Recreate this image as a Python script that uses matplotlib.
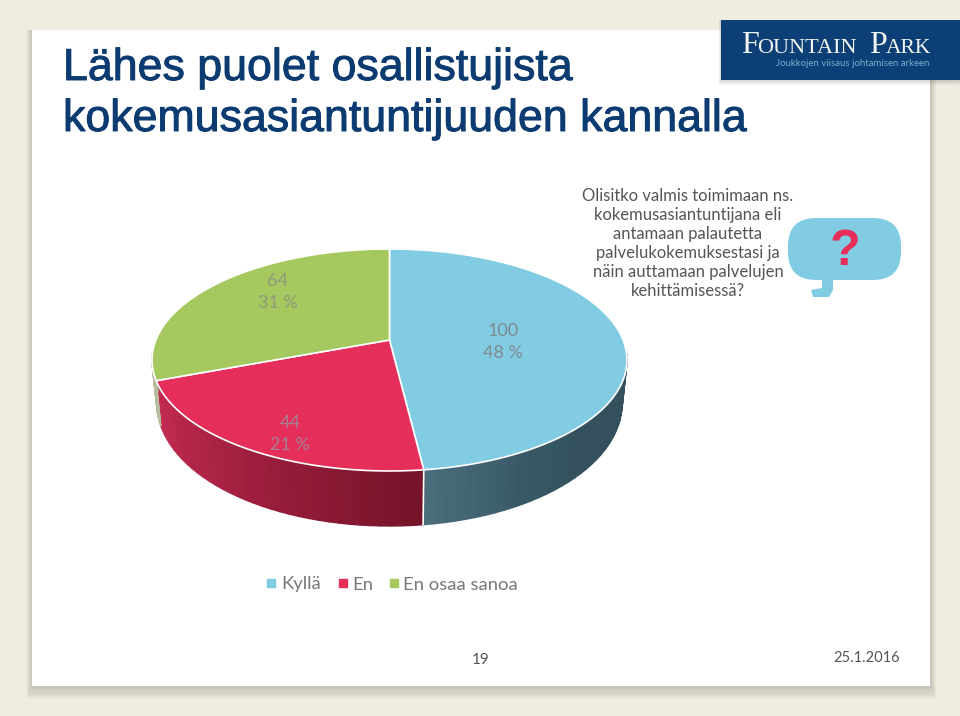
import numpy as np
import matplotlib
matplotlib.use('Agg')
import matplotlib.pyplot as plt
import matplotlib.patheffects as pe
from matplotlib.patches import Rectangle, FancyBboxPatch, Polygon
from matplotlib.colors import LinearSegmentedColormap

categories = ['Kyllä', 'En', 'En osaa sanoa']
values = [100, 44, 64]
colors = ['#82CCE3', '#E52F5A', '#A5C85F']
question = ['Olisitko valmis toimimaan ns.', 'kokemusasiantuntijana eli', 'antamaan palautetta',
            'palvelukokemuksestasi ja', 'näin auttamaan palvelujen', 'kehittämisessä?']

W, H = 960, 716
fig = plt.figure(figsize=(W / 100, H / 100), dpi=100)
ax = fig.add_axes([0, 0, 1, 1])
ax.set_xlim(0, W)
ax.set_ylim(H, 0)
ax.axis('off')

# tausta ja dia
ax.add_patch(Rectangle((0, 0), W, H, fc='#EFEDE1', ec='none', zorder=0))
for i in range(12):
    g = 12 - i
    ax.add_patch(Rectangle((32 - g * 0.5, 30), 898 + g, 656 + g * 1.1, fc='#5A5A48', ec='none', alpha=0.025, zorder=1))
ax.add_patch(Rectangle((32, 30), 898, 656, fc='white', ec='none', zorder=2))

# logo
for i in range(6):
    ax.add_patch(Rectangle((721 - i * 0.4, 20), 237 + i, 60 + i, fc='#303030', ec='none', alpha=0.04, zorder=3))
ax.add_patch(Rectangle((721, 20), 239, 60, fc='#0B3F75', ec='none', zorder=3))
logo_parts = [(741, 'F', 23), (757, 'OUNTAIN', 16), (869, 'P', 23), (886, 'ARK', 15.5)]
for x, s, size in logo_parts:
    ax.text(x, 53, s, color='#F4F6F2', fontsize=size, family='Liberation Serif', ha='left', va='baseline', zorder=4)
ax.text(929, 63, 'Joukkojen viisaus johtamisen arkeen', color='#78AFD0', fontsize=6.9, family='Lato',
        ha='right', va='center', zorder=4)

# otsikko
stroke = [pe.withStroke(linewidth=0.7, foreground='#0B3B70')]
ax.text(63, 80, 'Lähes puolet osallistujista', color='#0B3B70', fontsize=32.2, family='Liberation Sans',
        ha='left', va='baseline', path_effects=stroke, zorder=4)
ax.text(63, 131, 'kokemusasiantuntijuuden kannalla', color='#0B3B70', fontsize=32.2, family='Liberation Sans',
        ha='left', va='baseline', path_effects=stroke, zorder=4)


# ympyrän projektio kuvaan (perspektiivi)
def top_xy(theta):
    px, py = np.sin(theta), np.cos(theta)
    d = 1 + 0.18 * py
    return 389.5 + 233.6 * px / d, (340 - 46.2 * py) / d


def bottom_xy(theta):
    x, y = top_xy(theta)
    return 389.5 + (x - 389.5) * 0.98, y + 40 - 15 * np.cos(theta)


edges = np.concatenate([[0], np.cumsum(values)]) / sum(values) * 2 * np.pi

# sivuseinät
wall_maps = [
    LinearSegmentedColormap.from_list('w0', ['#33505C', '#33505C', '#33505C', '#3A5A68', '#4A6D7C']),
    LinearSegmentedColormap.from_list('w1', ['#741329', '#A01F3F', '#C42C52']),
    LinearSegmentedColormap.from_list('w2', ['#B9BDA0', '#B9BDA0']),
]
for i in range(len(values)):
    a = max(edges[i], np.radians(95))
    b = min(edges[i + 1], np.radians(265))
    if b <= a:
        continue
    steps = np.linspace(a, b, 36)
    for j in range(len(steps) - 1):
        t0, t1 = steps[j], steps[j + 1]
        x0, y0 = top_xy(t0)
        x1, y1 = top_xy(t1)
        x2, y2 = bottom_xy(t1)
        x3, y3 = bottom_xy(t0)
        c = wall_maps[i](j / 34)
        ax.add_patch(Polygon([(x0, y0), (x1, y1), (x2, y2), (x3, y3)], fc=c, ec=c, lw=1.0, zorder=5))

# sektoreiden väliviiva etureunassa
bx, by = bottom_xy(edges[1])
tx, ty = top_xy(edges[1])
ax.plot([tx, bx], [ty, by], color='white', lw=1.2, zorder=6)

# yläpinta
for i in range(len(values)):
    t = np.linspace(edges[i], edges[i + 1], 200)
    x, y = top_xy(t)
    ax.fill(np.r_[389.5, x], np.r_[340, y], fc=colors[i], ec='white', lw=1.2, joinstyle='round', zorder=7)

# arvot
label_pos = [(503, 342), (290, 434), (278, 292)]
label_cols = ['#7F8A90', '#A58093', '#8E9A7A']
for i in range(len(values)):
    pct = round(values[i] / sum(values) * 100)
    lx, ly = label_pos[i]
    ax.text(lx, ly - 11, str(values[i]), color=label_cols[i], fontsize=13, family='Lato', ha='center', va='center', zorder=8)
    ax.text(lx, ly + 11, '%d %%' % pct, color=label_cols[i], fontsize=13, family='Lato', ha='center', va='center', zorder=8)

# kysymys
for i, line in enumerate(question):
    ax.text(688, 196 + i * 19, line, color='#555555', fontsize=12, family='Lato', ha='center', va='center', zorder=8)

# puhekupla
ax.add_patch(FancyBboxPatch((807, 237), 75, 24, boxstyle='round,pad=19,rounding_size=28', fc='#82CCE3', ec='none', zorder=8))
ax.fill([812, 833, 833, 829, 813, 811, 822, 822], [275, 275, 290, 297, 297, 290, 288, 275], fc='#82CCE3', ec='none', zorder=8)
ax.text(845, 252, '?', color='#E52F5A', fontsize=36, fontweight='bold', family='Liberation Sans', ha='center', va='center', zorder=9)

# selite
leg_x = [271, 343, 394]
txt_x = [281, 352, 403]
for i in range(len(categories)):
    ax.scatter([leg_x[i]], [583], marker='s', s=28, color=colors[i], zorder=8)
    ax.text(txt_x[i], 584.5, categories[i], color='#777777', fontsize=13.3, family='Lato', ha='left', va='center', zorder=8)

# alatunniste
ax.text(481, 660, '19', color='#555555', fontsize=11, family='Lato', ha='center', va='center', zorder=8)
ax.text(900, 658, '25.1.2016', color='#555555', fontsize=10.5, family='Lato', ha='right', va='center', zorder=8)

fig.savefig('out.png', dpi=100)
